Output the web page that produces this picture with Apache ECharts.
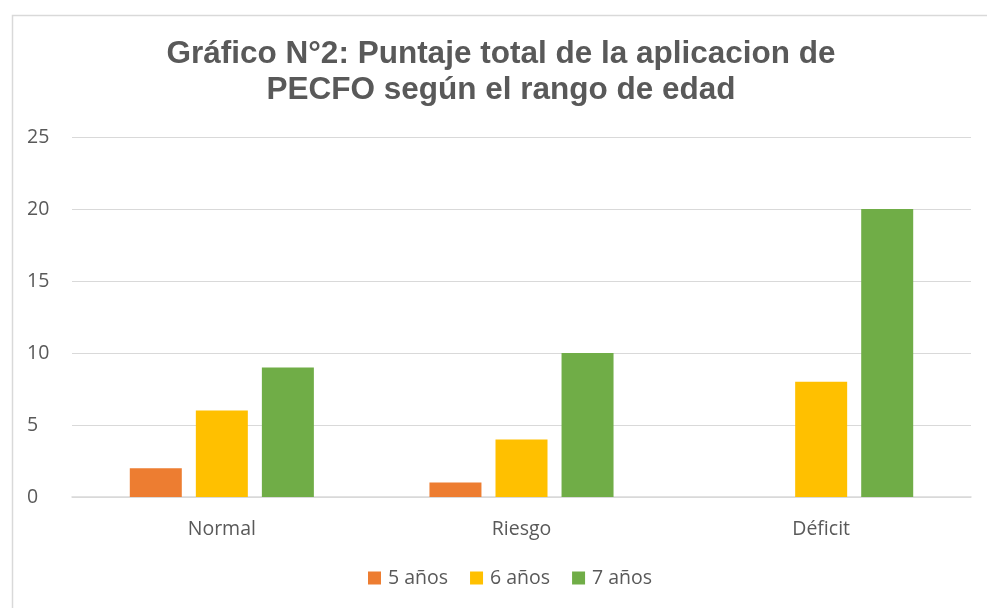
<!DOCTYPE html>
<html>
<head>
<meta charset="utf-8">
<script src="https://cdn.jsdelivr.net/npm/echarts@6/dist/echarts.min.js"></script>
<style>
  html, body { margin: 0; padding: 0; background: #fff; }
  #chart { width: 987px; height: 608px; }
</style>
</head>
<body>
<div id="chart"></div>
<script>
// datos del gráfico
const categorias = ['Normal', 'Riesgo', 'Déficit'];
const cincoAnios = [2, 1, 0];
const seisAnios = [6, 4, 8];
const sieteAnios = [9, 10, 20];
const nombresSeries = ['5 años', '6 años', '7 años'];
const colores = ['#ED7D31', '#FFC000', '#70AD47'];

const chart = echarts.init(document.getElementById('chart'));

const txtFont = '"Open Sans", "Noto Sans", sans-serif';

function serie(nombre, datos, color) {
    return {
        name: nombre,
        type: 'bar',
        data: datos,
        barWidth: 52,
        barGap: '27%',
        itemStyle: { color: color },
        emphasis: { disabled: true }
    };
}

chart.setOption({
    animation: false,
    color: colores,
    graphic: [{
        type: 'rect',
        left: 10, top: 13,
        shape: { width: 1000, height: 620 },
        style: { fill: 'none', stroke: '#D9D9D9', lineWidth: 1.5 },
        silent: true
    }],
    title: {
        text: 'Gráfico N°2: Puntaje total de la aplicacion de\nPECFO según el rango de edad',
        left: 496,
        textAlign: 'center',
        top: 31,
        textStyle: {
            fontFamily: '"Liberation Sans", Arial, sans-serif',
            fontWeight: 'bold',
            fontSize: 31.5,
            lineHeight: 36,
            color: '#595959'
        }
    },
    legend: {
        bottom: 15,
        left: 363,
        itemWidth: 13,
        itemHeight: 13,
        itemGap: 22,
        icon: 'rect',
        textStyle: { fontFamily: txtFont, fontSize: 19.5, color: '#595959', padding: [0, 0, 0, 2] },
        data: nombresSeries
    },
    grid: { left: 72, right: 16, top: 137, bottom: 111, containLabel: false },
    xAxis: {
        type: 'category',
        data: categorias,
        axisLine: { lineStyle: { color: '#D9D9D9', width: 1.5 } },
        axisTick: { show: false },
        axisLabel: { fontFamily: txtFont, fontSize: 19.5, color: '#595959', margin: 22 }
    },
    yAxis: {
        type: 'value',
        min: 0, max: 25, interval: 5,
        axisLine: { show: false },
        axisTick: { show: false },
        splitLine: { lineStyle: { color: '#D9D9D9', width: 1.2 } },
        axisLabel: { fontFamily: txtFont, fontSize: 19.5, color: '#595959', margin: 45, align: 'left' }
    },
    series: [
        serie(nombresSeries[0], cincoAnios, colores[0]),
        serie(nombresSeries[1], seisAnios, colores[1]),
        serie(nombresSeries[2], sieteAnios, colores[2])
    ]
});
</script>
</body>
</html>
